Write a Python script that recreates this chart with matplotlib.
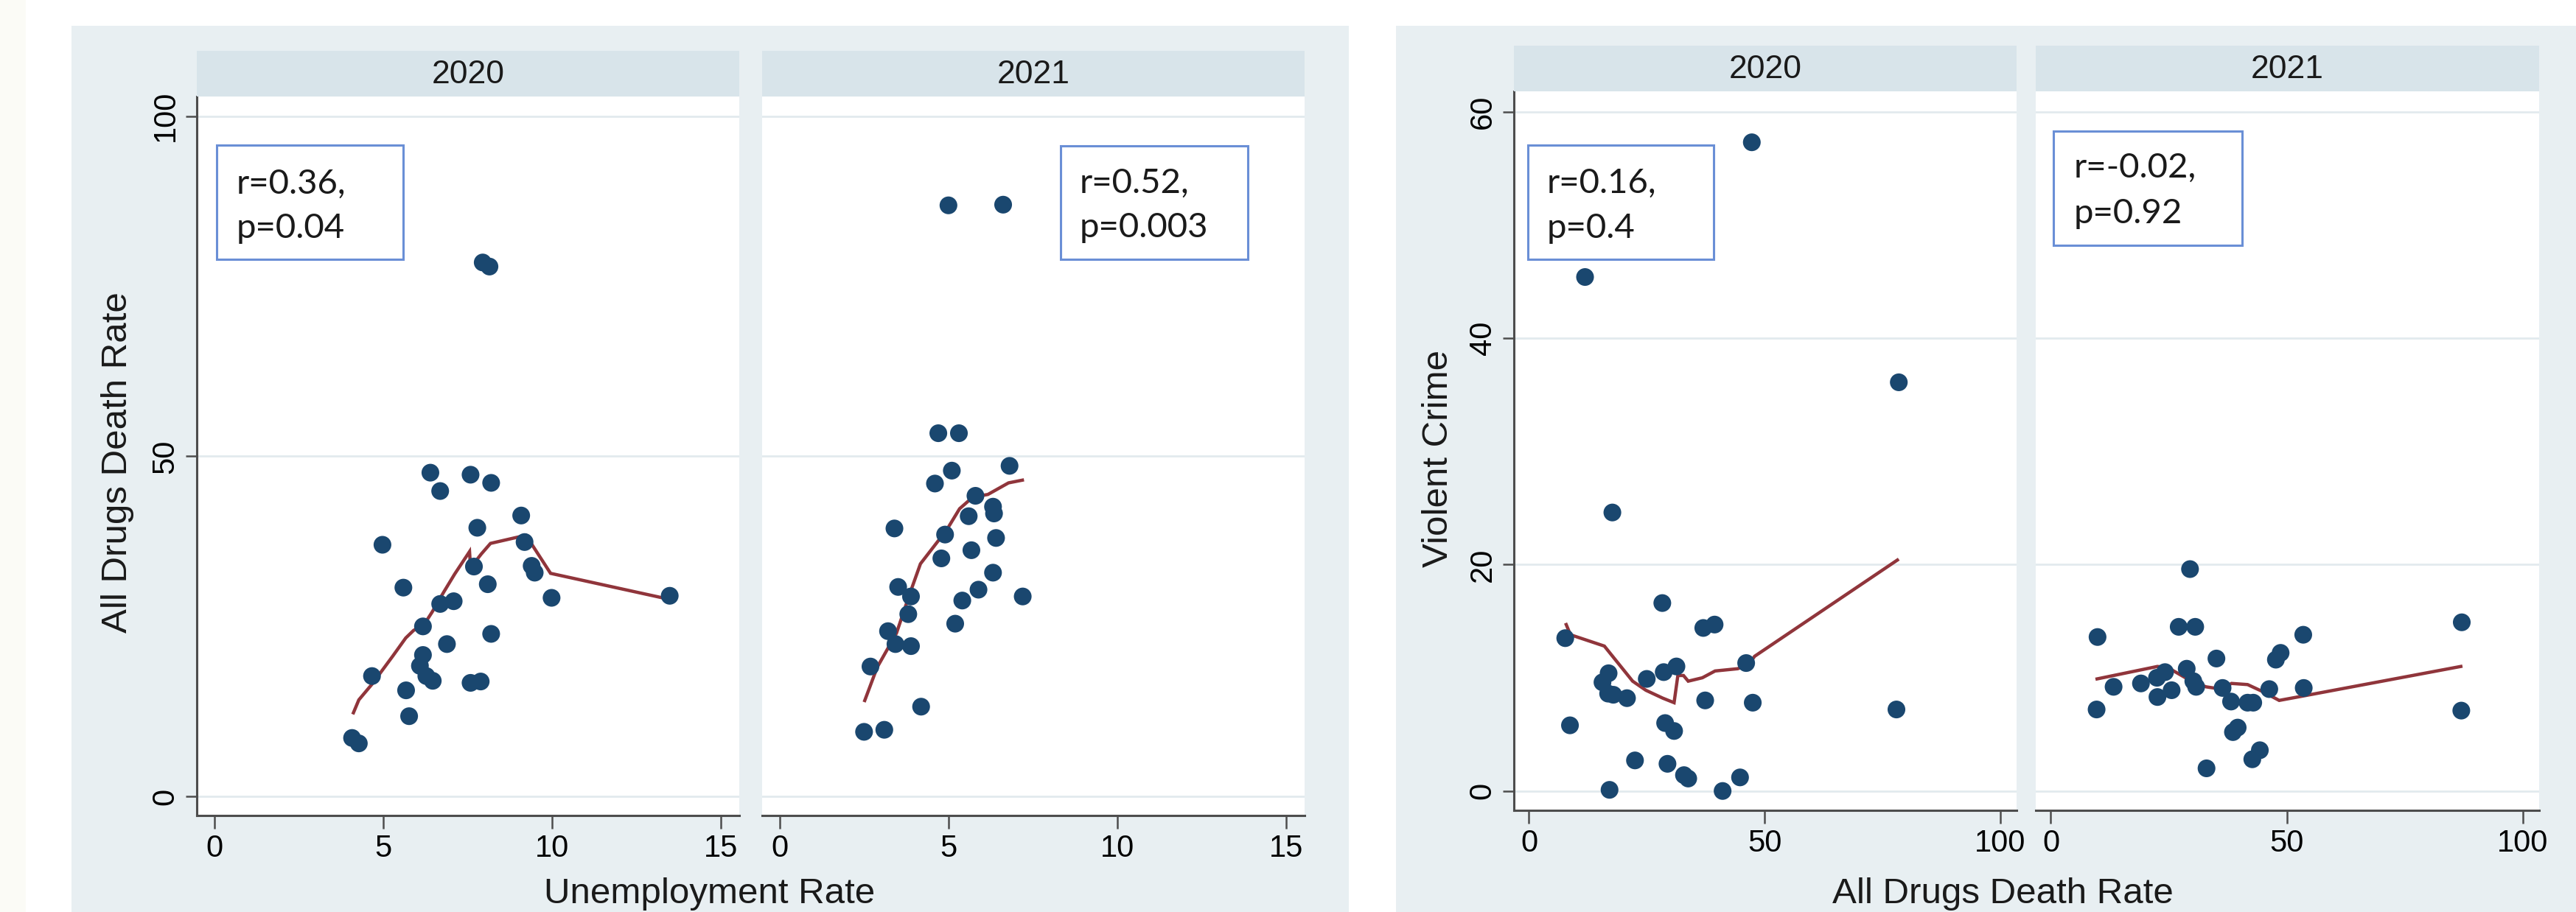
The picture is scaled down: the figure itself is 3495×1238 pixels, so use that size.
import matplotlib
matplotlib.use("Agg")
import matplotlib.pyplot as plt
from matplotlib.patches import Rectangle
from matplotlib import font_manager

# ---------------- data ----------------
# Left chart: Unemployment Rate (x) vs All Drugs Death Rate (y)
unemp_2020 = [6.40, 7.59, 8.20, 6.69, 9.09, 7.79, 4.98, 9.19, 9.40, 9.49, 7.69, 8.10, 5.60,
              6.69, 7.09, 9.99, 13.49, 6.18, 8.20, 6.89, 6.18, 6.09, 6.28, 6.47, 7.59, 7.89,
              4.67, 5.68, 5.77, 4.08, 4.28, 7.95, 8.15]
death_2020 = [47.6, 47.3, 46.1, 44.9, 41.3, 39.5, 37.0, 37.4, 33.9, 32.9, 33.8, 31.2, 30.7,
              28.3, 28.7, 29.2, 29.5, 25.0, 23.9, 22.4, 20.8, 19.2, 17.7, 17.0, 16.7, 16.9,
              17.7, 15.6, 11.8, 8.6, 7.8, 78.5, 77.9]
unemp_2021 = [5.00, 6.62, 4.70, 5.31, 6.81, 5.10, 4.60, 5.80, 6.32, 6.35, 5.60, 3.40, 6.41,
              4.90, 5.68, 4.79, 6.32, 5.89, 5.41, 7.20, 3.51, 3.89, 3.81, 3.21, 3.43, 3.89,
              5.20, 2.69, 4.19, 2.50, 3.10]
death_2021 = [86.9, 87.0, 53.4, 53.4, 48.6, 47.9, 46.0, 44.2, 42.6, 41.6, 41.2, 39.4, 38.0,
              38.5, 36.2, 35.0, 32.9, 30.4, 28.8, 29.4, 30.8, 29.4, 26.8, 24.3, 22.4, 22.1,
              25.4, 19.1, 13.2, 9.5, 9.8]
# lowess curves
lowess_unemp_2020_x = [4.12, 4.28, 4.67, 5.28, 5.67, 5.90, 6.23, 6.45, 6.79, 7.12, 7.56, 7.59,
                       7.90, 8.18, 9.23, 9.96, 13.46]
lowess_unemp_2020_y = [12.3, 14.2, 16.5, 20.6, 23.3, 24.4, 25.4, 27.1, 30.0, 32.7, 36.0, 33.6,
                       35.6, 37.2, 38.4, 32.8, 29.0]
lowess_unemp_2021_x = [2.52, 2.89, 3.46, 3.84, 4.17, 4.56, 4.95, 5.33, 5.72, 6.17, 6.78, 7.19]
lowess_unemp_2021_y = [14.1, 19.0, 24.0, 29.6, 34.2, 36.7, 39.2, 42.3, 44.0, 44.4, 46.1, 46.5]

# Right chart: All Drugs Death Rate (x) vs Violent Crime (y)
drug_2020 = [47.3, 11.9, 78.5, 17.7, 28.3, 37.0, 39.4, 7.7, 46.1, 31.3, 28.6, 25.0, 16.9, 15.6,
             16.8, 17.9, 20.8, 37.4, 47.5, 78.0, 8.7, 28.9, 30.8, 22.5, 29.4, 32.9, 33.8, 44.8,
             17.1, 41.1]
crime_2020 = [57.3, 45.4, 36.1, 24.6, 16.6, 14.4, 14.7, 13.5, 11.3, 11.0, 10.5, 9.9, 10.4, 9.6,
              8.6, 8.5, 8.2, 8.0, 7.8, 7.2, 5.8, 6.0, 5.3, 2.7, 2.4, 1.4, 1.1, 1.2, 0.1, 0.0]
drug_2021 = [29.5, 87.1, 9.9, 27.1, 30.6, 53.5, 35.1, 47.7, 48.7, 28.8, 24.2, 30.2, 30.8, 22.5,
             22.6, 19.1, 13.3, 25.6, 9.7, 36.4, 38.2, 41.7, 42.9, 46.3, 53.6, 87.0, 38.6, 39.6,
             44.3, 42.7, 33.0]
crime_2021 = [19.6, 14.9, 13.6, 14.5, 14.5, 13.8, 11.7, 11.6, 12.2, 10.8, 10.5, 9.7, 9.2, 10.0,
              8.3, 9.5, 9.2, 8.9, 7.2, 9.1, 7.9, 7.8, 7.8, 9.0, 9.1, 7.1, 5.2, 5.6, 3.6, 2.8, 2.0]
lowess_drug_2020_x = [7.9, 8.8, 16.0, 22.0, 24.8, 28.4, 30.8, 31.6, 32.8, 33.8, 36.8, 39.5,
                      44.3, 46.7, 47.9, 78.2]
lowess_drug_2020_y = [14.7, 13.8, 12.8, 9.7, 8.9, 8.2, 7.8, 10.2, 10.2, 9.7, 10.0, 10.6,
                      10.8, 11.2, 11.9, 20.4]
lowess_drug_2021_x = [9.8, 22.6, 24.8, 30.2, 32.9, 36.1, 38.3, 41.7, 44.8, 48.4, 53.6, 86.9]
lowess_drug_2021_y = [9.9, 11.0, 10.9, 9.6, 9.2, 9.0, 9.5, 9.4, 8.8, 8.0, 8.4, 11.0]

years = ["2020", "2021"]
left_stats = ["r=0.36,\np=0.04", "r=0.52,\np=0.003"]
right_stats = ["r=0.16,\np=0.4", "r=-0.02,\np=0.92"]
left_xticks = [0, 5, 10, 15]
left_yticks = [0, 50, 100]
right_xticks = [0, 50, 100]
right_yticks = [0, 20, 40, 60]

# ---------------- style ----------------
W, H = 3495, 1238
fig = plt.figure(figsize=(W / 100, H / 100), dpi=100)
fig.patch.set_facecolor("white")

installed = {f.name for f in font_manager.fontManager.ttflist}
NARROW = "Liberation Sans Narrow" if "Liberation Sans Narrow" in installed else "Liberation Sans"
SANS = "Liberation Sans"
BOXFONT = "Lato" if "Lato" in installed else "DejaVu Sans"

BG = "#e8eff2"
STRIP = "#d8e4ea"
GRID = "#e2eaee"
AXC = "#4d4d4d"
DOT = "#1a476f"
LINE = "#90353b"
BOXC = "#6a8fd6"


def fr(x0, y0, x1, y1):
    return [x0 / W, 1 - y1 / H, (x1 - x0) / W, (y1 - y0) / H]


def fx(x):
    return x / W


def fy(y):
    return 1 - y / H


def add_rect(x0, y0, x1, y1, color, z=0):
    fig.add_artist(Rectangle((x0 / W, 1 - y1 / H), (x1 - x0) / W, (y1 - y0) / H,
                             transform=fig.transFigure, facecolor=color,
                             edgecolor="none", zorder=z))


def add_box(x0, y0, x1, y1, text_x, base1, base2, text):
    fig.add_artist(Rectangle((x0 / W, 1 - y1 / H), (x1 - x0) / W, (y1 - y0) / H,
                             transform=fig.transFigure, facecolor="white",
                             edgecolor=BOXC, linewidth=2.2, zorder=5))
    l1, l2 = text.split("\n")
    fig.text(fx(text_x), fy(base1), l1, fontsize=34, family=BOXFONT, va="baseline",
             ha="left", color="#1a1a1a", zorder=6)
    fig.text(fx(text_x), fy(base2), l2, fontsize=34, family=BOXFONT, va="baseline",
             ha="left", color="#1a1a1a", zorder=6)


# background regions
add_rect(0, 0, 35, H, "#fbfbf6")
add_rect(97, 35, 1829.5, H, BG)
add_rect(1894, 35, W, H, BG)


def panel(rect_px, strip_px, label, xs, ys, lx, ly, xlim, ylim, xticks, yticks, first):
    x0, y0, x1, y1 = rect_px
    ax = fig.add_axes(fr(x0, y0, x1, y1))
    ax.set_facecolor("white")
    ax.set_xlim(*xlim)
    ax.set_ylim(*ylim)
    ax.set_xticks(xticks)
    ax.set_xticklabels([str(t) for t in xticks])
    ax.set_yticks(yticks)
    ax.grid(axis="y", color=GRID, linewidth=2.0, zorder=0)
    ax.set_axisbelow(True)
    for s in ["top", "right"]:
        ax.spines[s].set_visible(False)
    ax.spines["bottom"].set_color(AXC)
    ax.spines["bottom"].set_linewidth(2.2)
    if first:
        ax.spines["left"].set_color(AXC)
        ax.spines["left"].set_linewidth(2.2)
        ax.set_yticklabels([str(t) for t in yticks])
        ax.tick_params(axis="y", direction="out", length=11, width=1.8, color=AXC,
                       labelsize=30, pad=5)
        for t in ax.get_yticklabels():
            t.set_rotation(90)
            t.set_va("center")
            t.set_family(SANS)
    else:
        ax.spines["left"].set_visible(False)
        ax.tick_params(axis="y", left=False, labelleft=False)
    ax.tick_params(axis="x", direction="out", length=13, width=1.8, color=AXC,
                   labelsize=30, pad=5)
    for t in ax.get_xticklabels():
        t.set_family(SANS)
    ax.plot(lx, ly, color=LINE, linewidth=3.2, zorder=3, solid_joinstyle="miter")
    ax.scatter(xs, ys, s=300, color=DOT, edgecolors="none", zorder=4)
    # strip header
    sx0, sy0, sx1, sy1 = strip_px
    sax = fig.add_axes(fr(sx0, sy0, sx1, sy1))
    sax.set_facecolor(STRIP)
    sax.set_xticks([])
    sax.set_yticks([])
    for s in sax.spines.values():
        s.set_visible(False)
    sax.text(0.5, 0.47, label, transform=sax.transAxes, ha="center", va="center",
             fontsize=32, family=NARROW, color="#1a1a1a")
    return ax


LXLIM = (-0.52, 15.55)
LYLIM = (-2.8, 102.9)
RXLIM = (-3.2, 103.5)
RYLIM = (-1.71, 61.8)

panel((267, 131, 1003, 1107), (267, 69, 1003, 131), years[0], unemp_2020, death_2020,
      lowess_unemp_2020_x, lowess_unemp_2020_y, LXLIM, LYLIM, left_xticks, left_yticks, True)
panel((1034, 131, 1770, 1107), (1034, 69, 1770, 131), years[1], unemp_2021, death_2021,
      lowess_unemp_2021_x, lowess_unemp_2021_y, LXLIM, LYLIM, left_xticks, left_yticks, False)
panel((2054, 124, 2736, 1100), (2054, 62, 2736, 124), years[0], drug_2020, crime_2020,
      lowess_drug_2020_x, lowess_drug_2020_y, RXLIM, RYLIM, right_xticks, right_yticks, True)
panel((2762, 124, 3445, 1100), (2762, 62, 3445, 124), years[1], drug_2021, crime_2021,
      lowess_drug_2021_x, lowess_drug_2021_y, RXLIM, RYLIM, right_xticks, right_yticks, False)

# stat boxes
add_box(294, 197, 547, 352, 321, 263, 323, left_stats[0])
add_box(1439, 198, 1693, 352, 1465, 262, 322, left_stats[1])
add_box(2073, 197, 2325, 352, 2099, 262, 323, right_stats[0])
add_box(2786, 178, 3042, 333, 2814, 241, 303, right_stats[1])

# axis titles
fig.text(fx(159), fy(628), "All Drugs Death Rate", rotation=90, ha="center", va="center",
         fontsize=35.5, family=SANS, color="#1a1a1a")
fig.text(fx(1952), fy(622), "Violent Crime", rotation=90, ha="center", va="center",
         fontsize=35.5, family=SANS, color="#1a1a1a")
fig.text(fx(963), fy(1226), "Unemployment Rate", ha="center", va="baseline",
         fontsize=35.5, family=NARROW, color="#1a1a1a")
fig.text(fx(2717), fy(1226), "All Drugs Death Rate", ha="center", va="baseline",
         fontsize=35.5, family=NARROW, color="#1a1a1a")

fig.savefig("out.png", dpi=100, facecolor=fig.get_facecolor())
